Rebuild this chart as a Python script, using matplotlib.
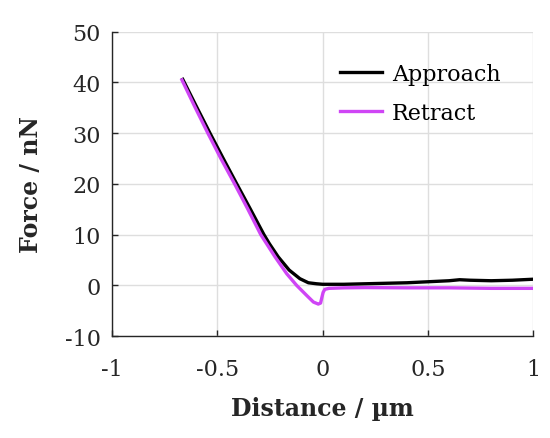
import matplotlib
matplotlib.use("Agg")
import matplotlib.pyplot as plt

# force-distance curve
approach_x = [-0.664, -0.600, -0.535, -0.472, -0.408, -0.343, -0.279, -0.253, -0.211,
              -0.159, -0.108, -0.068, -0.029, 0.0, 0.1, 0.2, 0.3, 0.4,
              0.5, 0.6, 0.65, 0.7, 0.8, 0.9, 1.0]
approach_y = [40.6, 35.3, 30.0, 25.0, 20.0, 15.0, 10.0, 8.2, 5.6,
              3.0, 1.3, 0.5, 0.3, 0.2, 0.2, 0.3, 0.4, 0.5,
              0.7, 0.9, 1.1, 1.0, 0.9, 1.0, 1.2]

retract_x = [-0.668, -0.608, -0.545, -0.482, -0.418, -0.355, -0.294, -0.226, -0.171,
             -0.124, -0.076, -0.044, -0.021, -0.010, -0.005, 0.002, 0.010, 0.03,
             0.1, 0.2, 0.4, 0.6, 0.8, 1.0]
retract_y = [40.5, 35.3, 30.0, 24.9, 20.0, 15.0, 10.0, 5.6, 2.3,
             0.0, -2.0, -3.3, -3.7, -3.5, -2.6, -1.4, -0.8, -0.6,
             -0.5, -0.45, -0.5, -0.5, -0.6, -0.6]

x_ticks = [-1, -0.5, 0, 0.5, 1]
x_labels = ["-1", "-0.5", "0", "0.5", "1"]
y_ticks = [-10, 0, 10, 20, 30, 40, 50]
y_labels = ["-10", "0", "10", "20", "30", "40", "50"]

plt.rcParams['font.family'] = ['DejaVu Serif']

fig = plt.figure(figsize=(5.5, 4.39), dpi=100)
ax = fig.add_axes([0.2036, 0.2323, 0.7662, 0.6932])

ax.plot(approach_x, approach_y, color='black', linewidth=2.4, label='Approach')
ax.plot(retract_x, retract_y, color='#CF45F5', linewidth=2.4, label='Retract')

ax.set_xlim(-1, 1)
ax.set_ylim(-10, 50)
ax.set_xticks(x_ticks)
ax.set_xticklabels(x_labels)
ax.set_yticks(y_ticks)
ax.set_yticklabels(y_labels)
ax.grid(True, color='#dedede', linewidth=1)
ax.set_axisbelow(True)

for side in ['top', 'right']:
    ax.spines[side].set_visible(False)
for side in ['left', 'bottom']:
    ax.spines[side].set_color('#262626')
    ax.spines[side].set_linewidth(1)

ax.tick_params(direction='in', length=4, width=1, color='#262626',
               labelsize=16, labelcolor='#262626')
ax.tick_params(axis='x', pad=15.5)
ax.tick_params(axis='y', pad=8)

ax.set_xlabel('Distance / µm', fontsize=17, fontweight='bold', color='#262626', labelpad=12)
ax.set_ylabel('Force / nN', fontsize=17, fontweight='bold', color='#262626', labelpad=16)

ax.legend(loc='upper left', bbox_to_anchor=(0.54, 0.8975), frameon=False,
          fontsize=16, handlelength=1.9, handletextpad=0.45, labelspacing=0.78,
          borderpad=0, borderaxespad=0)

fig.savefig('out.png', dpi=100)
